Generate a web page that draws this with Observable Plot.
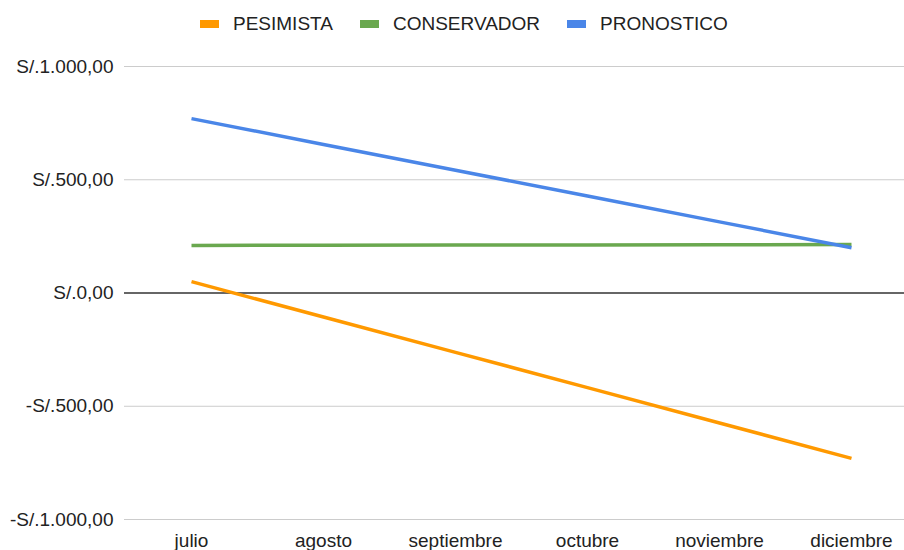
<!DOCTYPE html>
<html>
<head>
<meta charset="utf-8">
<script src="https://cdn.jsdelivr.net/npm/d3@7"></script>
<script src="https://cdn.jsdelivr.net/npm/@observablehq/plot@0.6"></script>
<style>
  html, body { margin: 0; padding: 0; background: #fff; }
  body { width: 904px; height: 550px; overflow: hidden; font-family: "Liberation Sans", Arial, sans-serif; }
  #legend { height: 45px; display: flex; align-items: center; padding-left: 200px; box-sizing: border-box; padding-top: 3px; font-size: 19px; color: #222; }
  .item { display: flex; align-items: center; margin-right: 27px; }
  .sw { width: 19px; height: 8px; margin-right: 14px; }
</style>
</head>
<body>
<div id="legend"></div>
<div id="chart"></div>
<script>
const months = ["julio", "agosto", "septiembre", "octubre", "noviembre", "diciembre"];
const seriesNames = ["PESIMISTA", "CONSERVADOR", "PRONOSTICO"];
const seriesColors = ["#ff9900", "#6aa84f", "#4a86e8"];
const pesimista = [50, -106, -262, -418, -574, -730];
const conservador = [210, 211, 212, 212, 213, 214];
const pronostico = [770, 656, 542, 428, 314, 200];
const yTicks = [-1000, -500, 0, 500, 1000];

const seriesValues = [pesimista, conservador, pronostico];
const data = [];
seriesNames.forEach((s, i) => months.forEach((m, j) => data.push({series: s, month: m, value: seriesValues[i][j]})));

const locale = d3.formatLocale({decimal: ",", thousands: ".", grouping: [3], currency: ["S/.", ""], minus: "-"});
const fmt = locale.format("$,.2f");

const legend = document.getElementById("legend");
seriesNames.forEach((s, i) => {
  const it = document.createElement("div");
  it.className = "item";
  it.innerHTML = `<span class="sw" style="background:${seriesColors[i]}"></span><span>${s}</span>`;
  legend.appendChild(it);
});

const chart = Plot.plot({
  width: 904,
  height: 505,
  marginLeft: 124,
  marginRight: 0,
  marginTop: 21,
  marginBottom: 31,
  style: {fontFamily: "'Liberation Sans', Arial, sans-serif", fontSize: "19px", color: "#222", background: "#fff"},
  x: {type: "point", domain: months, padding: 0.45, align: 0.555, label: null},
  y: {domain: [-1000, 1000], label: null},
  color: {domain: seriesNames, range: seriesColors},
  marks: [
    Plot.ruleY(yTicks.filter(d => d !== 0), {stroke: "#cccccc", strokeWidth: 1}),
    Plot.ruleY([0], {stroke: "#333333", strokeWidth: 1.3}),
    Plot.axisY({ticks: yTicks, tickSize: 0, tickPadding: 11, tickFormat: fmt, label: null, fill: "#222"}),
    Plot.axisX({tickSize: 0, tickPadding: 14, label: null, fill: "#222"}),
    Plot.line(data, {x: "month", y: "value", z: "series", stroke: "series", strokeWidth: 3.5, strokeLinecap: "butt"})
  ]
});
document.getElementById("chart").appendChild(chart);
</script>
</body>
</html>
